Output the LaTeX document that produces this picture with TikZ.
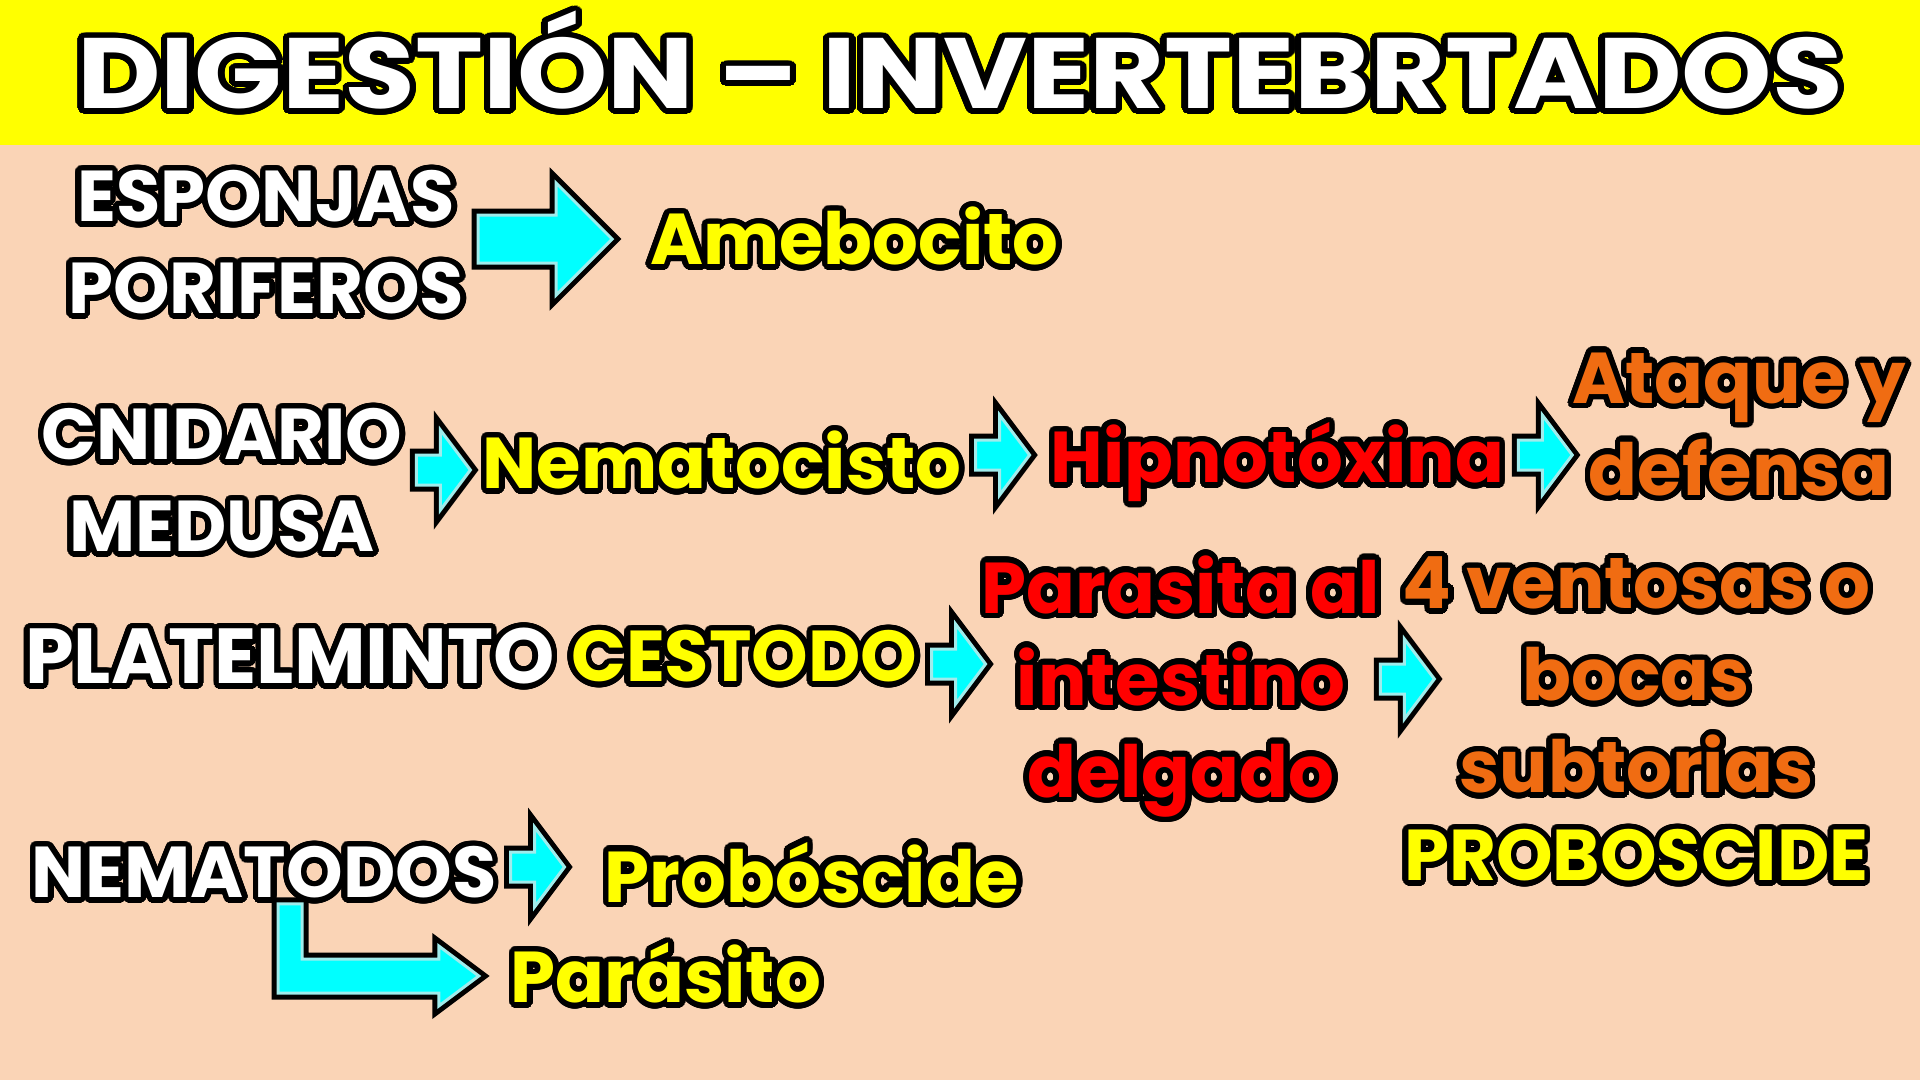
\documentclass[tikz,border=0pt]{standalone}
\usepackage{fontspec}
\setmainfont{Poppins}
\usepackage[copies]{contour}
\usetikzlibrary{positioning, calc}
\contourlength{5.5pt}
\contournumber{32}
\definecolor{peach}{RGB}{250,212,182}
\definecolor{banner}{RGB}{255,255,0}
\definecolor{txtyellow}{RGB}{255,255,0}
\definecolor{txtred}{RGB}{255,0,0}
\definecolor{txtorange}{RGB}{240,108,18}
\definecolor{arrowcyan}{RGB}{0,255,255}
\definecolor{arrowedge}{RGB}{160,236,236}
\newcommand{\outl}[1]{\contour{black}{#1}}
\tikzset{
  txt/.style={inner sep=0pt, align=center, font=\fontsize{72}{92}\selectfont\bfseries},
  whitetxt/.style={txt, text=white},
  yellowtxt/.style={txt, text=txtyellow},
  redtxt/.style={txt, text=txtred},
  orangetxt/.style={txt, text=txtorange},
  arrowfill/.style={fill=arrowcyan, draw=arrowedge, line width=3pt, line join=miter,
    preaction={draw=black, line width=13pt, line join=miter}},
  % shaft half height / head half height / head length / total length
  blockarrow/.style n args={4}{arrowfill, to path={let \p1=(\tikztostart) in
    (\x1+14pt,\y1+#1) -- (\x1+14pt+#4-#3,\y1+#1) -- (\x1+14pt+#4-#3,\y1+#2)
    -- (\x1+14pt+#4,\y1) -- (\x1+14pt+#4-#3,\y1-#2) -- (\x1+14pt+#4-#3,\y1-#1)
    -- (\x1+14pt,\y1-#1) -- cycle}},
  smallarrow/.style={blockarrow={15pt}{40pt}{30pt}{54pt}},
  bigarrow/.style={blockarrow={24pt}{56pt}{56pt}{134pt}},
  bentarrow/.style={arrowfill, to path={let \p1=(\tikztostart), \p2=(\tikztotarget) in
    (\x1-12pt,\y1) -- (\x1-12pt,\y2-17pt) -- (\x2-72pt,\y2-17pt) -- (\x2-72pt,\y2-30pt)
    -- (\x2-32pt,\y2) -- (\x2-72pt,\y2+30pt) -- (\x2-72pt,\y2+17pt)
    -- (\x1+12pt,\y2+17pt) -- (\x1+12pt,\y1) -- cycle}}
}
\begin{document}
\begin{tikzpicture}[x=1pt, y=-1pt]
	\useasboundingbox (0,0) rectangle (1920,1080);
	\fill[peach] (0,0) rectangle (1920,1080);
	\fill[banner] (0,0) rectangle (1920,145);

	\node (title) [whitetxt, font=\fontsize{100}{100}\selectfont\bfseries] at (960,63) {\scalebox{1.15}[1]{\outl{DIGESTIÓN – INVERTEBRTADOS}}};

	% esponjas
	\node (espon) [whitetxt] at (266,245) {\outl{ESPONJAS}\\\outl{PORIFEROS}};
	\node (ameb) [yellowtxt, right=186pt of espon, yshift=6pt] {\outl{Amebocito}};

	% cnidarios
	\node (cnid) [whitetxt] at (222,483) {\outl{CNIDARIO}\\\outl{MEDUSA}};
	\node (nema) [yellowtxt, right=80pt of cnid, yshift=20pt] {\outl{Nematocisto}};
	\node (hipno) [redtxt, right=89pt of nema, yshift=-2pt] {\outl{Hipnotóxina}};
	\node (ataque) [orangetxt, right=68pt of hipno, yshift=38pt] {\outl{Ataque y}\\\outl{defensa}};

	% platelmintos
	\node (plat) [whitetxt, font=\fontsize{78}{92}\selectfont\bfseries] at (290,659) {\outl{PLATELMINTO}};
	\node (cesto) [yellowtxt, right=16pt of plat] {\outl{CESTODO}};
	\node (paras) [redtxt, right=64pt of cesto, yshift=-30pt] {\outl{Parasita al}\\\outl{intestino}\\\outl{delgado}};
	\node (vent) [orangetxt, right=22pt of paras, yshift=11pt] {\outl{4 ventosas o}\\\outl{bocas}\\\outl{subtorias}};
	\node (probo) [yellowtxt, below=30pt of vent] {\outl{PROBOSCIDE}};

	% nematodos
	\node (nemat) [whitetxt] at (264,875) {\outl{NEMATODOS}};
	\node (probos) [yellowtxt, right=108pt of nemat] {\outl{Probóscide}};
	\node (paraz) [yellowtxt] at (666,976) {\outl{Parásito}};
	\coordinate (bend) at ([xshift=26pt]nemat.south);

	\draw [bigarrow] ([yshift=6pt]espon.east) to (ameb);
	\draw [smallarrow] ([yshift=13pt]cnid.east) to (nema);
	\draw [smallarrow] ([yshift=8pt]nema.east) to (hipno);
	\draw [smallarrow] ([yshift=10pt]hipno.east) to (ataque);
	\draw [smallarrow] ([yshift=-5pt]cesto.east) to (paras);
	\draw [smallarrow] ([xshift=-14pt, yshift=10pt]paras.east) to (vent);
	\draw [smallarrow] ([yshift=8pt]nemat.east) to (probos);
	\draw [bentarrow] (bend) to (paraz.west);
\end{tikzpicture}
\end{document}
